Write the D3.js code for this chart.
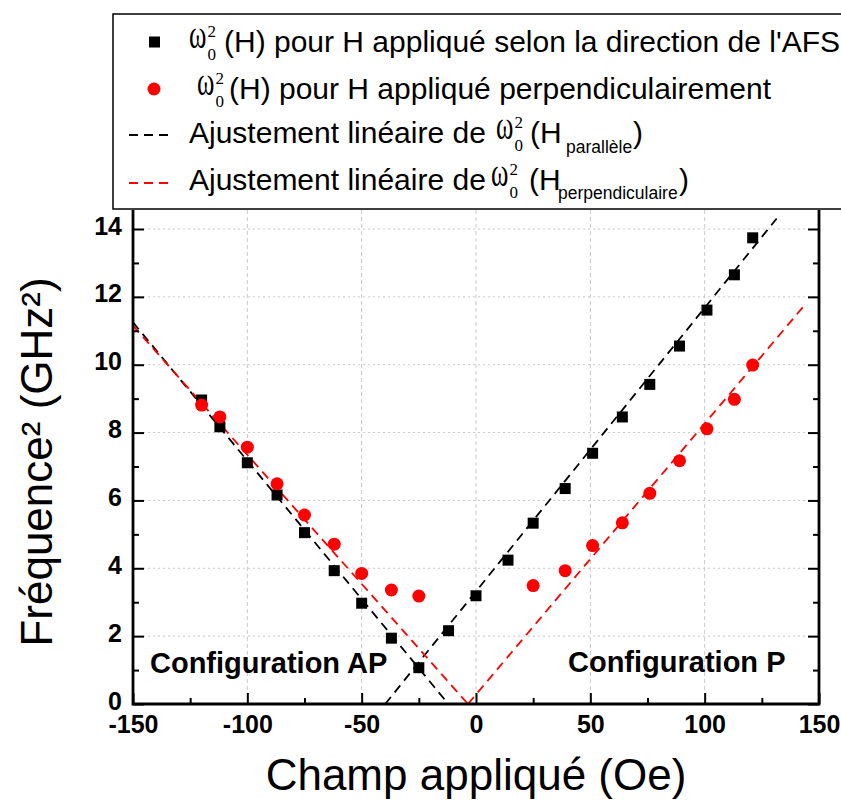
<!DOCTYPE html>
<html>
<head>
<meta charset="utf-8">
<script src="https://cdn.jsdelivr.net/npm/d3@7"></script>
<style>
  body { margin: 0; background: #fff; }
  svg { display: block; }
  text { font-family: "Liberation Sans", Arial, sans-serif; }
  text.serif { font-family: "Liberation Serif", "DejaVu Serif", serif; }
</style>
</head>
<body>
<svg id="chart" width="841" height="801"></svg>
<script>
// field (Oe) and squared frequency (GHz^2)
const fieldPar = [-120, -112, -100, -87, -75, -62, -50, -37, -25, -12, 0, 14, 25, 39, 51, 64, 76, 89, 101, 113, 121];
const freqPar = [8.96, 8.17, 7.11, 6.16, 5.05, 3.93, 2.97, 1.94, 1.07, 2.16, 3.19, 4.24, 5.33, 6.35, 7.39, 8.46, 9.42, 10.55, 11.61, 12.65, 13.74];
const fieldPerp = [-120, -112, -100, -87, -75, -62, -50, -37, -25, 25, 39, 51, 64, 76, 89, 101, 113, 121];
const freqPerp = [8.81, 8.46, 7.57, 6.49, 5.57, 4.71, 3.85, 3.36, 3.18, 3.49, 3.93, 4.67, 5.34, 6.21, 7.17, 8.11, 8.98, 9.99];

// linear fits, end points [field, freq²]
const fitParLeft = [[-150, 11.25], [-12.1, 0]];
const fitParRight = [[-39.7, 0], [131.5, 14.31]];
const fitPerpLeft = [[-150, 11.15], [-3.5, 0]];
const fitPerpRight = [[-3.5, 0], [143, 11.7]];

const xTicks = [-150, -100, -50, 0, 50, 100, 150];
const xMinor = [-125, -75, -25, 25, 75, 125];
const yTicks = [0, 2, 4, 6, 8, 10, 12, 14];
const yMinor = [1, 3, 5, 7, 9, 11, 13];

const svg = d3.select('#chart');
const x = d3.scaleLinear().domain([-150, 150]).range([133, 819]);
const y = d3.scaleLinear().domain([0, 14.56]).range([704, 210]);

// grid
svg.append('g').selectAll('line')
    .data(yTicks.filter(d => d > 0))
    .enter().append('line')
    .attr('x1', x(-150)).attr('x2', x(150))
    .attr('y1', d => y(d)).attr('y2', d => y(d))
    .attr('stroke', '#c8c8c8').attr('stroke-width', 1).attr('stroke-dasharray', '2,3');
svg.append('g').selectAll('line')
    .data(xTicks.filter(d => d > -150 && d < 150))
    .enter().append('line')
    .attr('x1', d => x(d)).attr('x2', d => x(d))
    .attr('y1', y(0)).attr('y2', y(14.56))
    .attr('stroke', '#c8c8c8').attr('stroke-width', 1).attr('stroke-dasharray', '4,3');

// fit lines
const line = d3.line().x(d => x(d[0])).y(d => y(d[1]));
[[fitParLeft, '#000'], [fitParRight, '#000'], [fitPerpLeft, '#f00'], [fitPerpRight, '#f00']].forEach(([pts, c]) => {
    svg.append('path').attr('d', line(pts))
        .attr('fill', 'none').attr('stroke', c).attr('stroke-width', 1.8)
        .attr('stroke-dasharray', '9,6');
});

// markers
svg.append('g').selectAll('rect')
    .data(d3.zip(fieldPar, freqPar))
    .enter().append('rect')
    .attr('x', d => x(d[0]) - 5.5).attr('y', d => y(d[1]) - 5.5)
    .attr('width', 11).attr('height', 11).attr('fill', '#000');
svg.append('g').selectAll('circle')
    .data(d3.zip(fieldPerp, freqPerp))
    .enter().append('circle')
    .attr('cx', d => x(d[0])).attr('cy', d => y(d[1]))
    .attr('r', 6.5).attr('fill', '#f00');

// axes
function styleAxis(g) {
    g.select('.domain').remove();
    g.selectAll('.tick line').attr('stroke', '#000').attr('stroke-width', 2);
    g.selectAll('.tick text').attr('fill', '#000')
        .style('font-size', '25px').style('font-weight', 'bold')
        .style('font-family', '"Liberation Sans", Arial, sans-serif');
}
const plain = d => String(d);
svg.append('g').attr('transform', `translate(0,${y(0)})`)
    .call(d3.axisBottom(x).tickValues(xTicks).tickSize(-11).tickPadding(11).tickFormat(plain))
    .call(styleAxis);
svg.append('g').attr('transform', `translate(0,${y(0)})`)
    .call(d3.axisBottom(x).tickValues(xMinor).tickSize(-6).tickFormat(''))
    .call(styleAxis);
svg.append('g').attr('transform', `translate(${x(-150)},0)`)
    .call(d3.axisLeft(y).tickValues(yTicks).tickSize(-11).tickPadding(11).tickFormat(plain))
    .call(styleAxis)
    .call(g => g.selectAll('.tick text').attr('dy', '0.2em'));
svg.append('g').attr('transform', `translate(${x(-150)},0)`)
    .call(d3.axisLeft(y).tickValues(yMinor).tickSize(-6).tickFormat(''))
    .call(styleAxis);
svg.append('g').attr('transform', `translate(${x(150)},0)`)
    .call(d3.axisRight(y).tickValues(yTicks).tickSize(-11).tickFormat(''))
    .call(styleAxis);
svg.append('g').attr('transform', `translate(${x(150)},0)`)
    .call(d3.axisRight(y).tickValues(yMinor).tickSize(-6).tickFormat(''))
    .call(styleAxis);

// frame
svg.append('path')
    .attr('d', `M${x(-150)},${y(14.56)}V${y(0)}H${x(150)}V${y(14.56)}`)
    .attr('fill', 'none').attr('stroke', '#000').attr('stroke-width', 2.8);

// axis titles
svg.append('text').attr('x', x(0)).attr('y', 790)
    .attr('text-anchor', 'middle').style('font-size', '44px')
    .text('Champ appliqué (Oe)');
svg.append('text').attr('transform', 'translate(52,462) rotate(-90)')
    .attr('text-anchor', 'middle').style('font-size', '44px')
    .text('Fréquence² (GHz²)');

// configuration labels
svg.append('text').attr('x', 150).attr('y', 673)
    .style('font-size', '29px').style('font-weight', 'bold').text('Configuration AP');
svg.append('text').attr('x', 568).attr('y', 672)
    .style('font-size', '29px').style('font-weight', 'bold').text('Configuration P');

// legend
const leg = svg.append('g');
leg.append('rect').attr('x', 113).attr('y', 14).attr('width', 740).attr('height', 195)
    .attr('fill', '#fff').attr('stroke', '#000').attr('stroke-width', 1.5);

function omega(px, base) {
    leg.append('text').classed('serif', true)
        .attr('transform', `translate(${px},${base - 4}) scale(0.66,1)`)
        .style('font-size', '40px').text('ω');
    leg.append('text').classed('serif', true).attr('x', px + 18.5).attr('y', base - 15)
        .style('font-size', '17px').text('2');
    leg.append('text').classed('serif', true).attr('x', px + 18.5).attr('y', base + 8)
        .style('font-size', '17px').text('0');
}
function label(px, base, s, size) {
    leg.append('text').attr('x', px).attr('y', base).style('font-size', (size || 30) + 'px').text(s);
}

leg.append('rect').attr('x', 149).attr('y', 36.5).attr('width', 11).attr('height', 11).attr('fill', '#000');
omega(189, 52);
label(224, 52, "(H) pour H appliqué selon la direction de l'AFS");

leg.append('circle').attr('cx', 154).attr('cy', 89).attr('r', 6.5).attr('fill', '#f00');
omega(197, 99);
label(229, 99, '(H) pour H appliqué perpendiculairement');

leg.append('line').attr('x1', 129).attr('x2', 174).attr('y1', 135).attr('y2', 135)
    .attr('stroke', '#000').attr('stroke-width', 1.8).attr('stroke-dasharray', '9,6');
label(189, 143, 'Ajustement linéaire de');
omega(496, 143);
label(530, 143, '(H');
label(566, 153, 'parallèle', 17.5);
label(633, 143, ')');

leg.append('line').attr('x1', 129).attr('x2', 174).attr('y1', 183).attr('y2', 183)
    .attr('stroke', '#f00').attr('stroke-width', 1.8).attr('stroke-dasharray', '9,6');
label(189, 190, 'Ajustement linéaire de');
omega(491, 190);
label(529, 190, '(H');
label(558, 199, 'perpendiculaire', 17.5);
label(679, 190, ')');
</script>
</body>
</html>
